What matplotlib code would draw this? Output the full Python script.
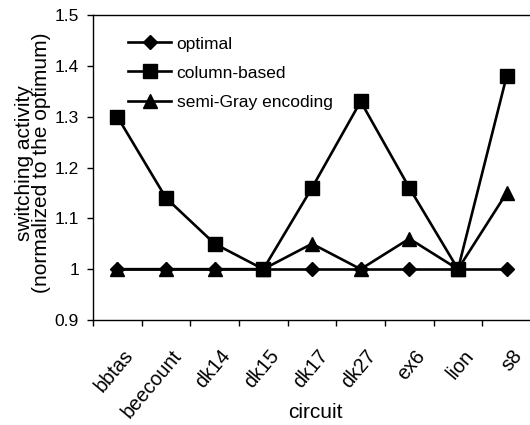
import matplotlib
matplotlib.use("Agg")
import matplotlib.pyplot as plt
import matplotlib.transforms as mtrans
import numpy as np

plt.rcParams['font.family'] = ['Liberation Sans', 'DejaVu Sans']

circuits = ["bbtas", "beecount", "dk14", "dk15", "dk17", "dk27", "ex6", "lion", "s8"]
optimal = [1.0, 1.0, 1.0, 1.0, 1.0, 1.0, 1.0, 1.0, 1.0]
column_based = [1.30, 1.14, 1.05, 1.00, 1.16, 1.33, 1.16, 1.00, 1.38]
semi_gray = [1.00, 1.00, 1.00, 1.00, 1.05, 1.00, 1.06, 1.00, 1.15]
yticks = [0.9, 1.0, 1.1, 1.2, 1.3, 1.4, 1.5]
ytick_labels = ["0.9", "1", "1.1", "1.2", "1.3", "1.4", "1.5"]

W, H = 530, 425
fig = plt.figure(figsize=(W / 100, H / 100), dpi=100)
# axes box in pixels: left 93, right 531, top 15, bottom 320
ax = fig.add_axes([93 / W, (H - 320) / H, 438 / W, 305 / H])

x = np.arange(len(circuits))
lw = 1.9
l_opt, = ax.plot(x, optimal, color="black", lw=lw, marker="D", ms=6.8, label="optimal", zorder=3)
l_gray, = ax.plot(x, semi_gray, color="black", lw=lw, marker="^", ms=10.5, label="semi-Gray encoding", zorder=4)
l_col, = ax.plot(x, column_based, color="black", lw=lw, marker="s", ms=10, label="column-based", zorder=5)

ax.set_xlim(-0.5, len(circuits) - 0.5)
ax.set_ylim(0.9, 1.5)
ax.set_yticks(yticks)
ax.set_yticklabels(ytick_labels, fontsize=12.5)
ax.tick_params(axis="y", direction="out", length=4, width=1, pad=6)

ax.set_xticks(x)
ax.set_xticks(np.arange(-0.5, len(circuits)), minor=True)
ax.tick_params(axis="x", which="major", length=0, pad=19)
ax.tick_params(axis="x", which="minor", direction="out", length=4, width=1)
labels = ax.set_xticklabels(circuits, fontsize=14.3, rotation=50, ha="right",
                            rotation_mode="anchor")
offset = mtrans.ScaledTranslation(5 / 100, 0, fig.dpi_scale_trans)
for lab in labels:
    lab.set_transform(lab.get_transform() + offset)

ax.spines["right"].set_visible(False)
for s in ["left", "top", "bottom"]:
    ax.spines[s].set_linewidth(1.0)

ax.set_ylabel("switching activity\n(normalized to the optimum)", fontsize=15, linespacing=0.85)
ax.yaxis.set_label_coords(-0.096, 0.516)
ax.set_xlabel("circuit", fontsize=15)
ax.xaxis.set_label_coords(0.507, -0.272)

ax.legend([l_opt, l_col, l_gray], ["optimal", "column-based", "semi-Gray encoding"],
          loc="upper left", bbox_to_anchor=(0.08, 0.93), frameon=False,
          fontsize=12.5, handlelength=2.5, handletextpad=0.3, labelspacing=0.8,
          borderpad=0, borderaxespad=0, numpoints=1)

fig.savefig("out.png", dpi=100)
